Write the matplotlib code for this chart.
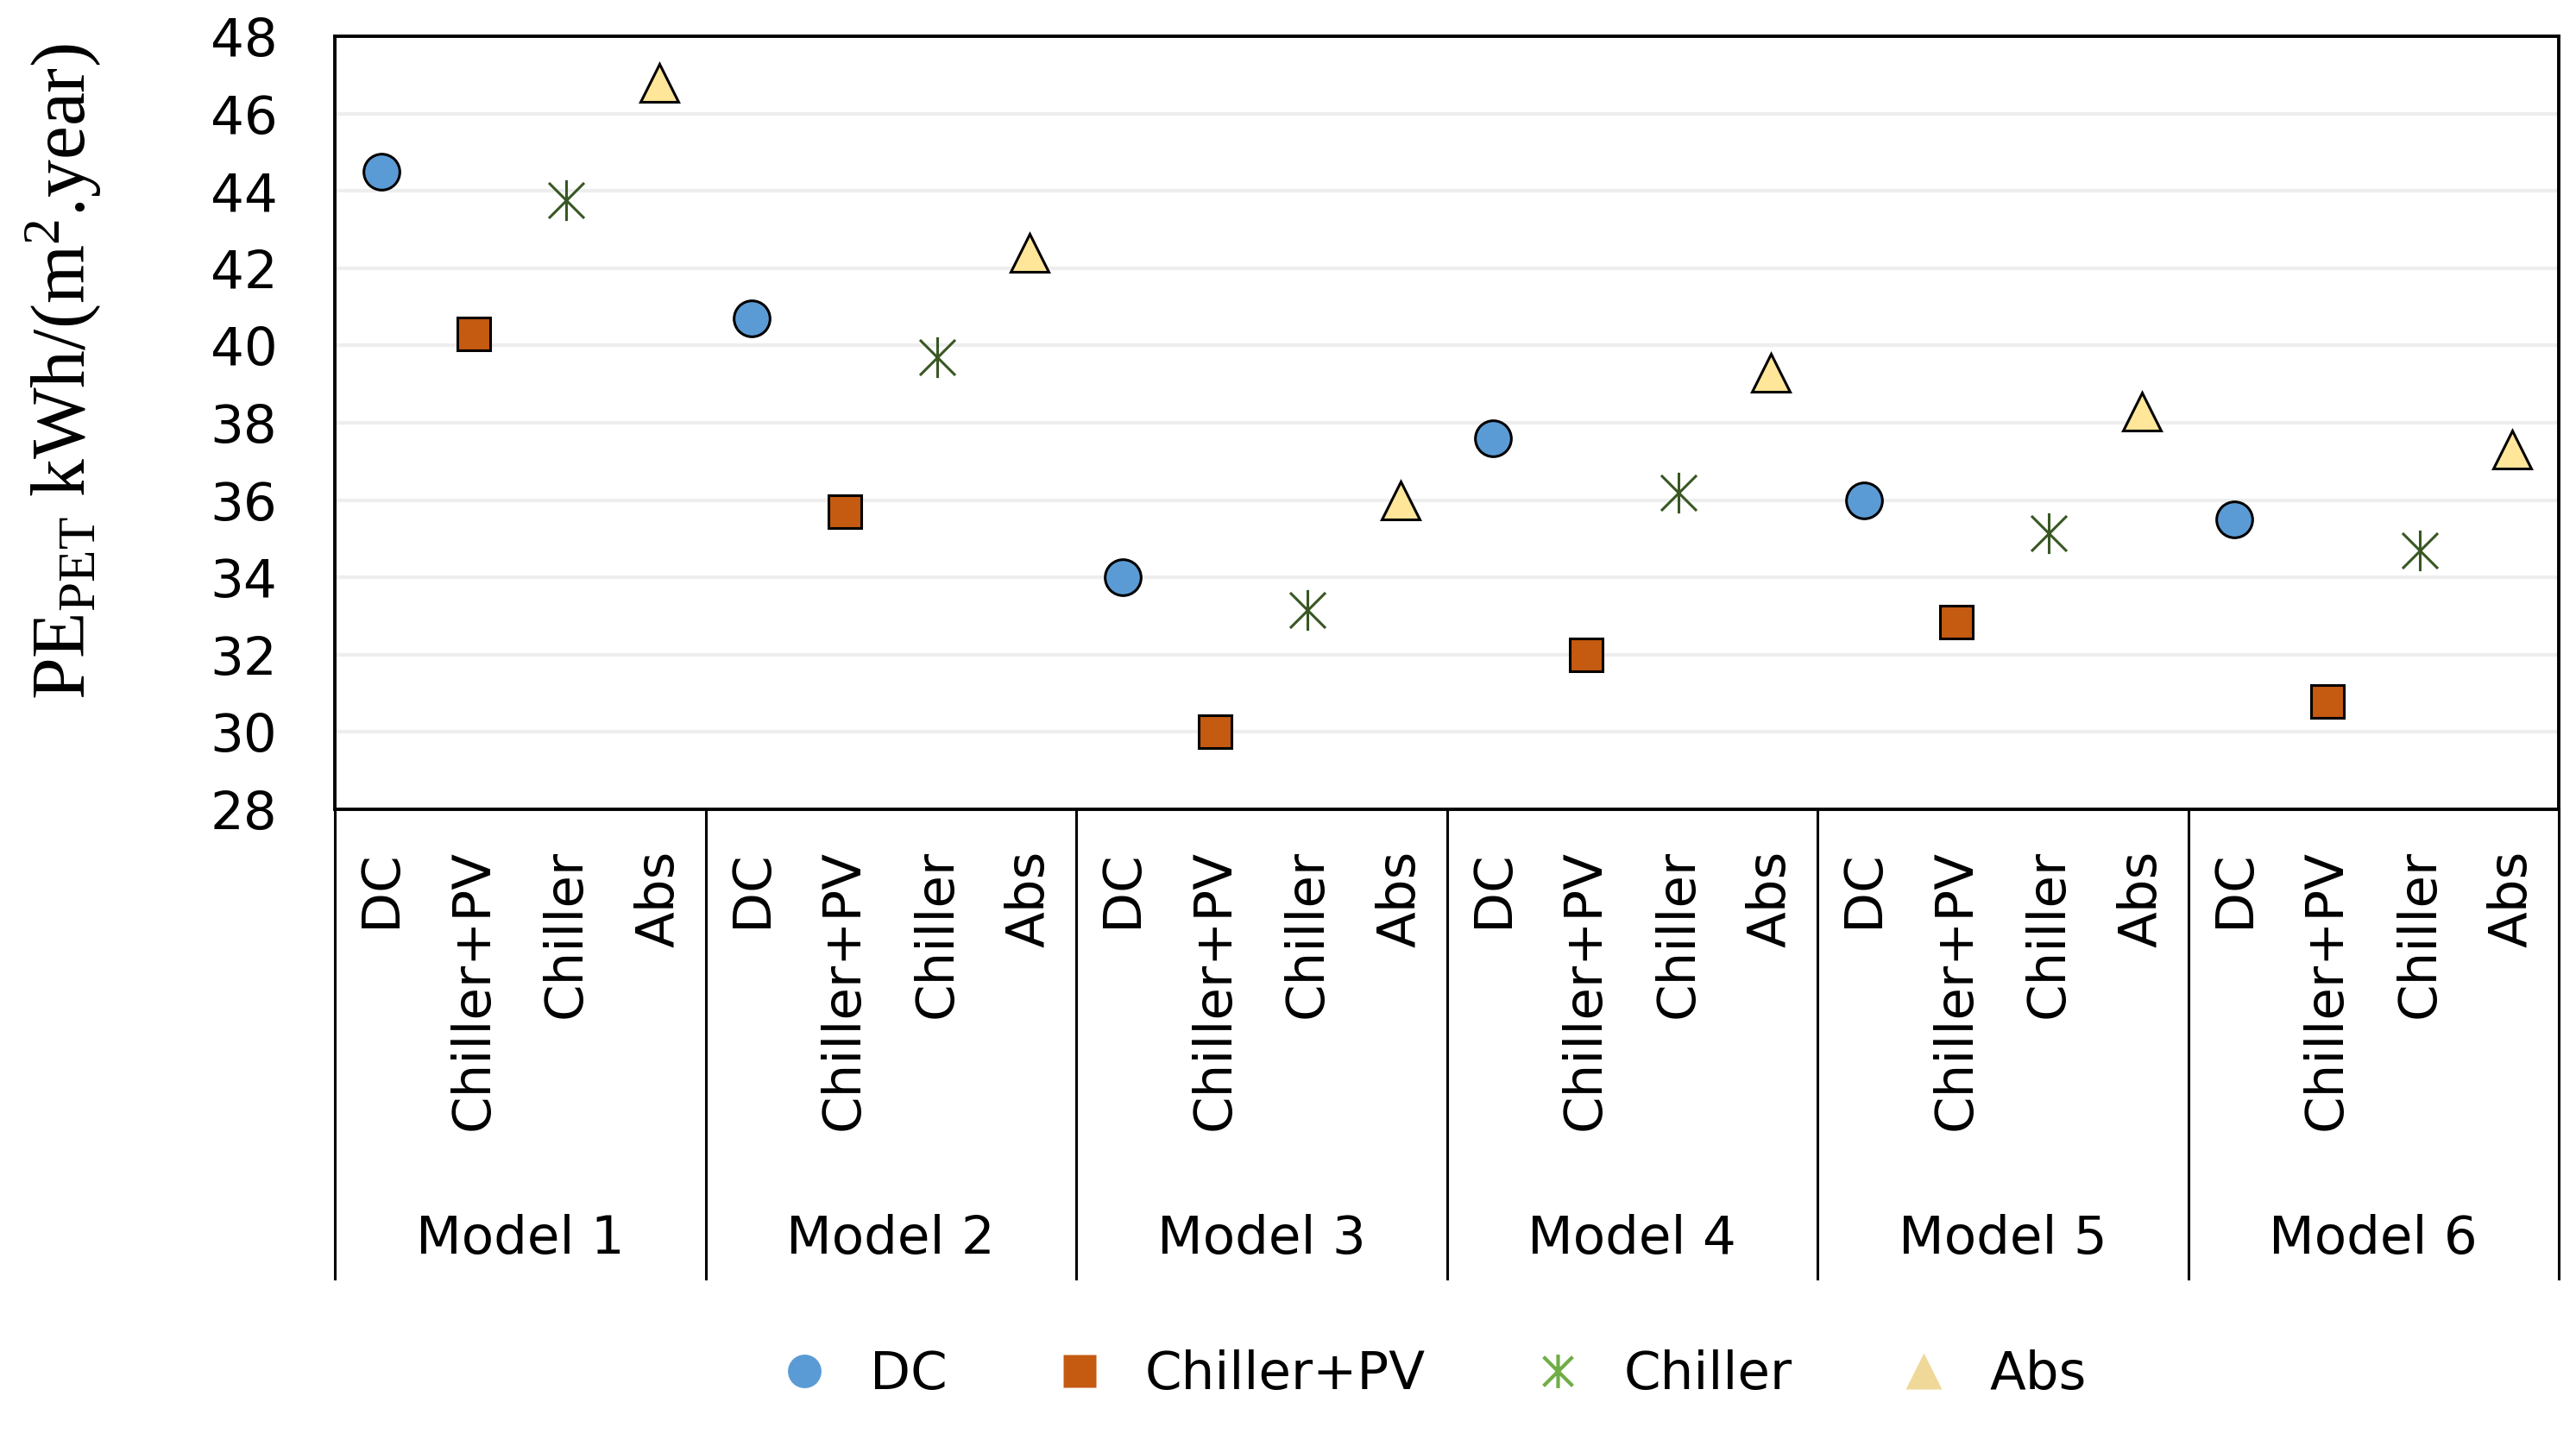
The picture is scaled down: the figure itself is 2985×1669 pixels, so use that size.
import matplotlib
matplotlib.use('Agg')
import matplotlib.pyplot as plt
import matplotlib.transforms as mtransforms
from matplotlib.path import Path
from matplotlib.lines import Line2D
import numpy as np

# Data
models = ['Model 1', 'Model 2', 'Model 3', 'Model 4', 'Model 5', 'Model 6']
systems = ['DC', 'Chiller+PV', 'Chiller', 'Abs']
dc = [44.5, 40.7, 34.0, 37.6, 36.0, 35.5]
chiller_pv = [40.3, 35.7, 30.0, 32.0, 32.85, 30.8]
chiller = [43.75, 39.7, 33.15, 36.2, 35.15, 34.7]
absorption = [46.8, 42.4, 36.0, 39.3, 38.3, 37.3]
yticks = list(range(28, 49, 2))

plt.rcParams['font.family'] = 'DejaVu Sans'
plt.rcParams['mathtext.fontset'] = 'custom'
plt.rcParams['mathtext.rm'] = 'Liberation Serif'
plt.rcParams['mathtext.it'] = 'Liberation Serif:italic'

# asterisk without the horizontal bar (Excel style star)
star = Path([(-1, -1), (1, 1), (-1, 1), (1, -1), (0, -1.15), (0, 1.15)],
            [Path.MOVETO, Path.LINETO, Path.MOVETO, Path.LINETO, Path.MOVETO, Path.LINETO])

fig = plt.figure(figsize=(14.925, 8.345), dpi=200)
ax_l, ax_b, ax_r, ax_t = 0.130, 0.438, 0.9933, 0.9748
ax = fig.add_axes([ax_l, ax_b, ax_r - ax_l, ax_t - ax_b])

n = len(systems)
series = [
    (dc, dict(marker='o', ms=15, mfc='#5B9BD5', mec='black', mew=1.1)),
    (chiller_pv, dict(marker='s', ms=14, mfc='#C55A11', mec='black', mew=1.1)),
    (chiller, dict(marker=star, ms=17, mfc='none', mec='#385723', mew=1.1)),
    (absorption, dict(marker='^', ms=16, mfc='#FFE699', mec='black', mew=1.1)),
]
for j, (vals, style) in enumerate(series):
    xs = np.arange(len(models)) * n + j
    ax.plot(xs, vals, linestyle='none', zorder=3, **style)

ax.set_xlim(-0.5, len(models) * n - 0.5)
ax.set_ylim(28, 48)
ax.set_yticks(yticks)
ax.set_yticklabels([str(v) for v in yticks], fontsize=22)
ax.tick_params(axis='y', length=0, pad=24)
ax.yaxis.grid(True, color='#EEEEEE', linewidth=1.5)
ax.set_axisbelow(True)

ax.set_xticks(np.arange(len(models) * n))
ax.set_xticklabels(systems * len(models), rotation=90, fontsize=22)
ax.tick_params(axis='x', length=0, pad=17)

for s in ax.spines.values():
    s.set_color('black')
    s.set_linewidth(1.4)

# category separators below the axis
trans = mtransforms.blended_transform_factory(ax.transData, fig.transFigure)
for k in range(len(models) + 1):
    xk = k * n - 0.5
    ax.plot([xk, xk], [ax_b, 0.112], color='black', lw=1.1,
            transform=trans, clip_on=False)
for k, m in enumerate(models):
    ax.text(k * n + (n - 1) / 2, 0.1396, m, transform=trans,
            ha='center', va='center', fontsize=22)

fig.text(0.0243, 0.742, r'PE$_{\mathrm{PET}}$ kWh/(m$^{2}$.year)',
         rotation=90, ha='center', va='center', fontsize=31.5,
         family='Liberation Serif')

handles = [
    Line2D([], [], linestyle='none', marker='o', ms=14, mfc='#5B9BD5', mec='none'),
    Line2D([], [], linestyle='none', marker='s', ms=14, mfc='#C55A11', mec='none'),
    Line2D([], [], linestyle='none', marker=star, ms=14, mfc='none', mec='#70AD47', mew=1.5),
    Line2D([], [], linestyle='none', marker='^', ms=15, mfc='#F0D898', mec='none'),
]
fig.legend(handles, systems, loc='center', bbox_to_anchor=(0.556, 0.045),
           ncol=4, frameon=False, fontsize=22, handlelength=1.0,
           handletextpad=0.75, columnspacing=2.0)

fig.savefig('out.png', dpi=200)
